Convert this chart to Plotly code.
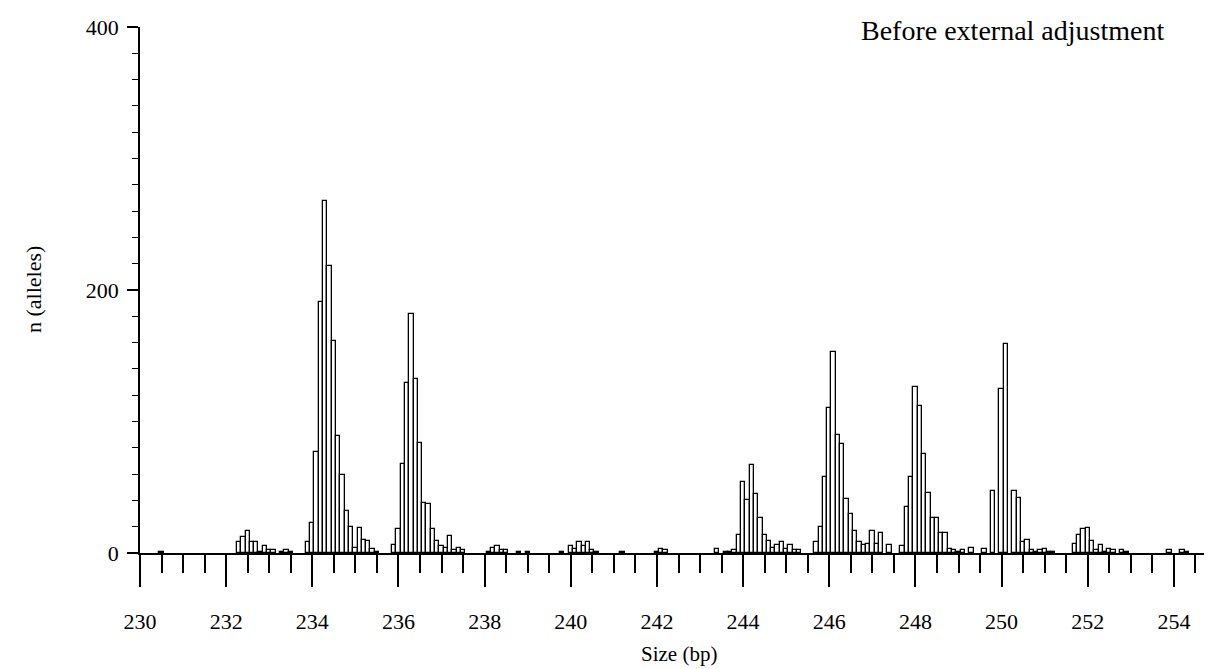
import plotly.graph_objects as go

# Allele size bins (bp) and counts
size_bp = [
    230.5,
    232.3, 232.4, 232.5, 232.6, 232.7, 232.8, 232.9, 233.0, 233.1, 233.3, 233.4, 233.5,
    233.9, 234.0, 234.1, 234.2, 234.3, 234.4, 234.5, 234.6, 234.7, 234.8, 234.9, 235.0,
    235.1, 235.2, 235.3, 235.4, 235.5,
    235.9, 236.0, 236.1, 236.2, 236.3, 236.4, 236.5, 236.6, 236.7, 236.8, 236.9, 237.0,
    237.1, 237.2, 237.3, 237.4, 237.5,
    238.1, 238.2, 238.3, 238.4, 238.5, 238.8, 239.0,
    239.8, 240.0, 240.1, 240.2, 240.3, 240.4, 240.5, 240.6,
    241.2, 242.0, 242.1, 242.2,
    243.4, 243.6, 243.7, 243.8, 243.9, 244.0, 244.1, 244.2, 244.3, 244.4, 244.5, 244.6,
    244.7, 244.8, 244.9, 245.0, 245.1, 245.2, 245.3,
    245.7, 245.8, 245.9, 246.0, 246.1, 246.2, 246.3, 246.4, 246.5, 246.6, 246.7, 246.8,
    246.9, 247.0, 247.1, 247.2, 247.4,
    247.7, 247.8, 247.9, 248.0, 248.1, 248.2, 248.3, 248.4, 248.5, 248.6, 248.7, 248.8,
    248.9, 249.0, 249.1, 249.3, 249.6,
    249.8, 250.0, 250.1, 250.3, 250.4, 250.5, 250.6, 250.7, 250.8, 250.9, 251.0, 251.1, 251.2,
    251.7, 251.8, 251.9, 252.0, 252.1, 252.2, 252.3, 252.4, 252.5, 252.6, 252.8, 252.9,
    253.9, 254.2, 254.3,
]
n_alleles = [
    1,
    8, 12, 17, 8, 8, 1, 5, 2, 2, 1, 2, 1,
    8, 23, 77, 191, 268, 218, 161, 89, 59, 32, 20, 4,
    19, 10, 9, 3, 1,
    6, 18, 68, 129, 182, 132, 84, 38, 37, 18, 9, 5,
    4, 13, 2, 4, 2,
    1, 4, 5, 2, 2, 1, 1,
    1, 5, 3, 8, 5, 8, 2, 1,
    1, 1, 3, 2,
    3, 1, 1, 2, 14, 54, 40, 67, 45, 27, 14, 9,
    4, 6, 8, 3, 6, 2, 2,
    8, 20, 58, 110, 153, 90, 83, 41, 30, 17, 8, 6,
    7, 17, 7, 15, 6,
    5, 35, 58, 126, 112, 75, 46, 27, 27, 15, 15, 3,
    2, 1, 2, 4, 3,
    47, 125, 159, 47, 42, 8, 10, 2, 1, 2, 3, 1, 1,
    7, 14, 18, 19, 9, 2, 6, 1, 3, 2, 2, 1,
    2, 2, 1,
]

x_ticks = [230, 232, 234, 236, 238, 240, 242, 244, 246, 248, 250, 252, 254]
y_ticks = [0, 200, 400]

title_text = "Before external adjustment"
x_title = "Size (bp)"
y_title = "n (alleles)"

FONT = "Liberation Serif, Times New Roman, serif"

fig = go.Figure()
fig.add_trace(go.Bar(
    x=size_bp,
    y=n_alleles,
    width=0.1,
    marker=dict(color="white", line=dict(color="black", width=1.3)),
    showlegend=False,
    hoverinfo="x+y",
))

fig.update_layout(
    width=1212,
    height=669,
    autosize=False,
    margin=dict(l=132, r=3, t=19, b=124),
    paper_bgcolor="white",
    plot_bgcolor="white",
    font=dict(family=FONT, size=22, color="black"),
    bargap=0,
    xaxis=dict(
        range=[230, 255],
        tickmode="array",
        tickvals=x_ticks,
        ticktext=[str(v) for v in x_ticks],
        ticks="outside",
        ticklen=32,
        tickwidth=1.5,
        tickcolor="black",
        ticklabelstandoff=16,
        showline=True,
        linecolor="black",
        linewidth=1.5,
        showgrid=False,
        zeroline=False,
        minor=dict(dtick=0.5, tick0=230, ticks="outside", ticklen=18,
                   tickwidth=1.5, tickcolor="black", showgrid=False),
        tickfont=dict(family=FONT, size=22, color="black"),
    ),
    yaxis=dict(
        range=[0, 400],
        tickmode="array",
        tickvals=y_ticks,
        ticktext=[str(v) for v in y_ticks],
        ticks="outside",
        ticklen=11,
        tickwidth=1.5,
        tickcolor="black",
        ticklabelstandoff=4,
        showline=True,
        linecolor="black",
        linewidth=1.5,
        showgrid=False,
        zeroline=False,
        minor=dict(dtick=20, tick0=0, ticks="outside", ticklen=6,
                   tickwidth=1.2, tickcolor="black", showgrid=False),
        tickfont=dict(family=FONT, size=22, color="black"),
    ),
    annotations=[
        dict(text=title_text, xref="paper", yref="paper", x=0.9526, y=0.994,
             xanchor="right", yanchor="middle", showarrow=False,
             font=dict(family=FONT, size=28, color="black")),
        dict(text=x_title, xref="paper", yref="paper", x=0.5, y=-0.192,
             xanchor="center", yanchor="middle", showarrow=False,
             font=dict(family=FONT, size=21, color="black")),
        dict(text=y_title, xref="paper", yref="paper", x=-0.0993, y=0.5,
             xanchor="center", yanchor="middle", showarrow=False, textangle=-90,
             font=dict(family=FONT, size=22, color="black")),
    ],
)

fig.write_html("out.html")
